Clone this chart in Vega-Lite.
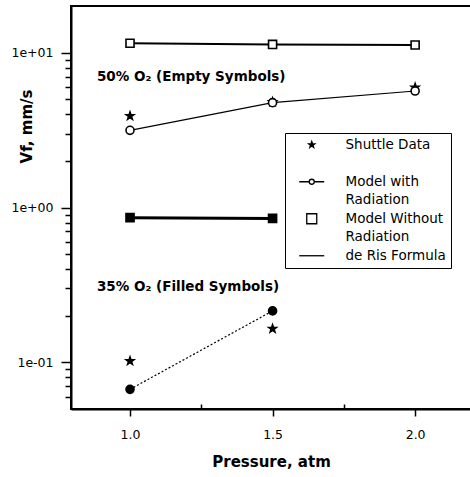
{
  "$schema": "https://vega.github.io/schema/vega-lite/v6.json",
  "width": 400,
  "height": 403,
  "autosize": {"type": "none"},
  "padding": {"left": 71, "top": 6, "right": 0, "bottom": 68},
  "background": "white",
  "config": {
    "view": {"stroke": "black", "strokeWidth": 2},
    "font": "DejaVu Sans",
    "style": {"guide-label": {"lineHeight": 18}}
  },
  "datasets": {
    "pts": [
      {"pressure": 1.0, "v": 3.9, "series": "Shuttle Data", "o2": "50%"},
      {"pressure": 1.5, "v": 4.8, "series": "Shuttle Data", "o2": "50%"},
      {"pressure": 2.0, "v": 5.95, "series": "Shuttle Data", "o2": "50%"},
      {"pressure": 1.0, "v": 0.102, "series": "Shuttle Data", "o2": "35%"},
      {"pressure": 1.5, "v": 0.165, "series": "Shuttle Data", "o2": "35%"},
      {"pressure": 1.0, "v": 3.15, "series": "Model with Radiation", "o2": "50%"},
      {"pressure": 1.5, "v": 4.75, "series": "Model with Radiation", "o2": "50%"},
      {"pressure": 2.0, "v": 5.65, "series": "Model with Radiation", "o2": "50%"},
      {"pressure": 1.0, "v": 0.067, "series": "Model with Radiation", "o2": "35%"},
      {"pressure": 1.5, "v": 0.215, "series": "Model with Radiation", "o2": "35%"},
      {"pressure": 1.0, "v": 11.5, "series": "Model Without Radiation", "o2": "50%"},
      {"pressure": 1.5, "v": 11.3, "series": "Model Without Radiation", "o2": "50%"},
      {"pressure": 2.0, "v": 11.2, "series": "Model Without Radiation", "o2": "50%"},
      {"pressure": 1.0, "v": 0.86, "series": "Model Without Radiation", "o2": "35%"},
      {"pressure": 1.5, "v": 0.85, "series": "Model Without Radiation", "o2": "35%"}
    ],
    "notes": [
      {"pressure": 0.884, "v": 7.0, "label": "50% O₂ (Empty Symbols)"},
      {"pressure": 0.884, "v": 0.305, "label": "35% O₂ (Filled Symbols)"}
    ]
  },
  "data": {"name": "pts"},
  "encoding": {
    "x": {
      "field": "pressure", "type": "quantitative",
      "scale": {"domain": [0.793, 2.196], "nice": false, "zero": false},
      "axis": {
        "title": "Pressure, atm",
        "values": [1, 1.25, 1.5, 1.75, 2],
        "labelExpr": "(datum.value == 1.25 || datum.value == 1.75) ? '' : format(datum.value, '.1f')",
        "grid": false,
        "domainColor": "black", "domainWidth": 2,
        "tickColor": "black", "tickWidth": 1.5,
        "tickSize": {"condition": {"test": "datum.value == 1.25 || datum.value == 1.75", "value": -5}, "value": 7},
        "labelPadding": 12,
        "labelFont": "DejaVu Sans", "labelFontSize": 12.5, "labelColor": "black",
        "titleFont": "DejaVu Sans", "titleFontSize": 15, "titleFontWeight": "bold", "titleColor": "black",
        "titleY": 45, "titleBaseline": "top"
      }
    },
    "y": {
      "field": "v", "type": "quantitative",
      "scale": {"type": "log", "domain": [0.05, 20], "nice": false},
      "axis": {
        "title": "Vf, mm/s",
        "values": [0.06, 0.07, 0.08, 0.09, 0.1, 0.2, 0.3, 0.4, 0.5, 0.6, 0.7, 0.8, 0.9, 1, 2, 3, 4, 5, 6, 7, 8, 9, 10],
        "labelExpr": "abs(log(datum.value)/LN10 - round(log(datum.value)/LN10)) < 0.001 ? (round(log(datum.value)/LN10) >= 0 ? '1e+0' + round(log(datum.value)/LN10) : '1e-0' + (-round(log(datum.value)/LN10))) : ''",
        "grid": false,
        "domainColor": "black", "domainWidth": 2,
        "tickColor": "black", "tickWidth": 1.5,
        "tickSize": {"condition": {"test": "abs(log(datum.value)/LN10 - round(log(datum.value)/LN10)) < 0.001", "value": 10}, "value": 6},
        "labelPadding": 8,
        "labelFont": "DejaVu Sans", "labelFontSize": 12.5, "labelColor": "black",
        "titleFont": "DejaVu Sans", "titleFontSize": 15, "titleFontWeight": "bold", "titleColor": "black",
        "titleX": -37, "titleY": 120
      }
    }
  },
  "layer": [
    {
      "transform": [{"filter": "datum.series != 'Shuttle Data' && !(datum.series == 'Model with Radiation' && datum.o2 == '35%')"}],
      "mark": {"type": "line", "color": "black"},
      "encoding": {
        "detail": [{"field": "series"}, {"field": "o2"}],
        "strokeWidth": {
          "condition": [
            {"test": "datum.series == 'Model Without Radiation' && datum.o2 == '35%'", "value": 3},
            {"test": "datum.series == 'Model Without Radiation'", "value": 2}
          ],
          "value": 1.2
        }
      }
    },
    {
      "transform": [{"filter": "datum.series == 'Model with Radiation' && datum.o2 == '35%'"}],
      "mark": {"type": "line", "color": "black", "strokeDash": [2, 2], "strokeWidth": 1.2},
      "encoding": {}
    },
    {
      "mark": {"type": "point", "filled": true, "stroke": "black", "strokeWidth": 1.6, "opacity": 1, "size": 65},
      "encoding": {
        "shape": {
          "condition": [
            {"test": "datum.series == 'Shuttle Data'", "value": "M0,-1L0.235,-0.324L0.951,-0.309L0.380,0.124L0.588,0.809L0,0.4L-0.588,0.809L-0.380,0.124L-0.951,-0.309L-0.235,-0.324Z"},
            {"test": "datum.series == 'Model with Radiation'", "value": "circle"}
          ],
          "value": "square"
        },
        "fill": {"condition": {"test": "datum.series == 'Shuttle Data' || datum.o2 == '35%'", "value": "black"}, "value": "white"}
      }
    },
    {
      "transform": [{"filter": "false"}],
      "mark": {"type": "point", "filled": false, "stroke": "black", "strokeWidth": 1.3, "opacity": 1},
      "encoding": {
        "shape": {
          "field": "series", "type": "nominal",
          "scale": {
            "domain": ["Shuttle Data", "Model with Radiation", "Model Without Radiation", "de Ris Formula"],
            "range": [
              "M0,-0.65L0.153,-0.211L0.618,-0.201L0.247,0.081L0.382,0.526L0,0.26L-0.382,0.526L-0.247,0.081L-0.618,-0.201L-0.153,-0.211ZM0,-0.33L0.078,-0.107L0.314,-0.102L0.125,0.041L0.194,0.267L0,0.132L-0.194,0.267L-0.125,0.041L-0.314,-0.102L-0.078,-0.107Z",
              "M-2.5,0H-0.5M0.5,0H2.5M0.5,0A0.5,0.5 0 1 1 -0.5,0A0.5,0.5 0 1 1 0.5,0",
              "square",
              "M-2.5,0H2.5"
            ]
          },
          "legend": {
            "orient": "none", "legendX": 214, "legendY": 127,
            "title": null,
            "strokeColor": "black", "fillColor": "white",
            "padding": 5,
            "symbolSize": 100, "symbolOffset": 15,
            "symbolStrokeColor": "black", "symbolStrokeWidth": 1.3, "symbolFillColor": "transparent",
            "labelOffset": 27, "labelFont": "DejaVu Sans", "labelFontSize": 13.5, "labelColor": "black", "labelLimit": 300,
            "rowPadding": 4,
            "labelExpr": "datum.label == 'Shuttle Data' ? ['Shuttle Data', ''] : datum.label == 'Model with Radiation' ? ['Model with', 'Radiation'] : datum.label == 'Model Without Radiation' ? ['Model Without', 'Radiation'] : datum.label"
          }
        }
      }
    },
    {
      "data": {"name": "notes"},
      "mark": {"type": "text", "align": "left", "baseline": "middle", "font": "DejaVu Sans", "fontSize": 13.5, "fontWeight": "bold", "color": "black"},
      "encoding": {"text": {"field": "label"}}
    }
  ]
}
